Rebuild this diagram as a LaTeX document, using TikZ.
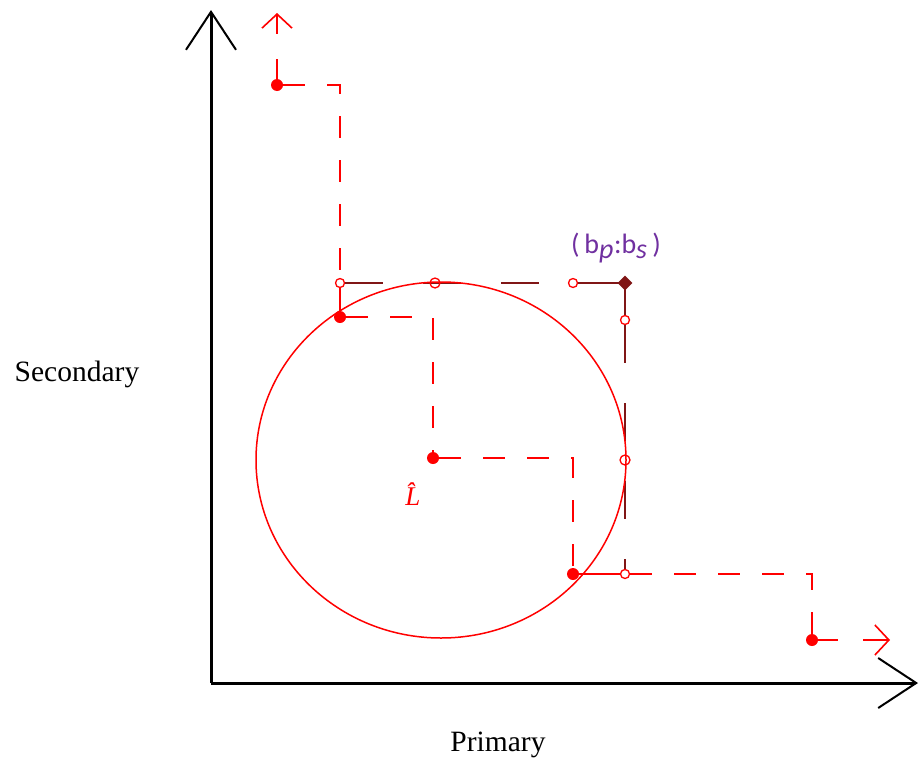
\documentclass[tikz,border=0pt]{standalone}
\usepackage{fontspec}
\setmainfont{Liberation Serif}
\newfontfamily\labelfont{Carlito}
\usepackage{xcolor}
\usetikzlibrary{arrows.meta,shapes.geometric}
\definecolor{darkbox}{RGB}{128,22,22}
\definecolor{labpurple}{RGB}{112,48,160}

\begin{document}
\begin{tikzpicture}[x=1pt,y=-1pt,
  dot/.style={circle,fill=red,inner sep=0pt,minimum size=12pt},
  bdot/.style={diamond,fill=darkbox,inner sep=0pt,minimum size=15pt},
  odot/.style={circle,draw=red,fill=white,line width=1.3pt,inner sep=0pt,minimum size=9pt},
  tdot/.style={circle,draw=red,line width=1.3pt,inner sep=0pt,minimum size=10pt},
  reddash/.style={red,line width=2pt,dash pattern=on 22pt off 22pt},
  darkdash/.style={darkbox,line width=2pt,dash pattern=on 38pt off 40pt},
  arrdash/.style={red,line width=2pt,dash pattern=on 20pt off 25pt on 40pt,
    -{Straight Barb[length=14pt,width=30pt,line width=1.6pt]}},
  axis/.style={line width=3pt,-{Straight Barb[length=38pt,width=50pt,line width=2pt]}}]
  \useasboundingbox (0,0) rectangle (920,763);

  % axes
  \coordinate (org) at (211,683);
  \coordinate (ytop) at (211,10);
  \coordinate (xend) at (918,683);
  \draw[axis] (org) -- (ytop);
  \draw[axis] (org) -- (xend);
  \node[font=\fontsize{29.5}{34}\selectfont] (ylab) at (77,374) {Secondary};
  \node[font=\fontsize{29.5}{34}\selectfont] (xlab) at (498,745) {Primary};

  % points
  \node[dot] (p1) at (277,85) {};
  \node[dot] (p2) at (340,317) {};
  \node[dot] (lhat) at (433,458) {};
  \node[dot] (p3) at (573,574) {};
  \node[dot] (p4) at (812,640) {};
  \node[odot] (o1) at (340,283) {};
  \node[odot] (o2) at (573,283) {};
  \node[odot] (o3) at (625,320) {};
  \node[odot] (o4) at (625,574) {};
  \coordinate (uptip) at (277,13);
  \coordinate (rtip) at (890,640);

  % bounding box of the region
  \draw[darkdash] (o1) -- (o2);
  \draw[darkbox,line width=2pt] (o2) -- (625,283) -- (o3);
  \node[bdot] (bp) at (625,283) {};
  \draw[darkdash] (o3) -- (o4);

  % staircase
  \draw[arrdash] (p1) -- (uptip);
  \draw[reddash] (p1) -| (o1);
  \draw[red,line width=2pt] (o1) -- (p2);
  \draw[reddash] (p2) -| (lhat);
  \draw[reddash] (lhat) -| (p3);
  \draw[red,line width=2pt] (p3) -- (o4);
  \draw[reddash] (o4) -| (p4);
  \draw[arrdash] (p4) -- (rtip);

  \draw[red,line width=1.5pt] (441,460) ellipse [x radius=185pt,y radius=178pt];
  \node[tdot] (t1) at (435,283) {};
  \node[tdot] (t2) at (625,460) {};

  \node[red,inner sep=0pt,font=\fontsize{27}{30}\selectfont\itshape] (lhatlab) at (413,494) {\^{L}};
  \node[labpurple,font=\labelfont\fontsize{28}{32}\selectfont] (blab) at (616,248)
    {(\,b$_{\textit{p}}$:b$_{\textit{s}}$\,)};
\end{tikzpicture}
\end{document}
